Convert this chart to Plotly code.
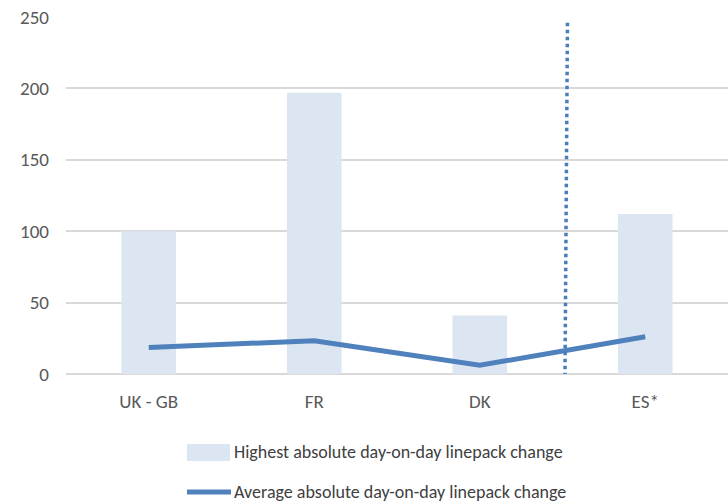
import plotly.graph_objects as go

categories = ["UK - GB", "FR", "DK", "ES*"]
highest_change = [100, 197, 41, 112]
average_change = [18.6, 23.3, 6.1, 26.1]
y_ticks = [0, 50, 100, 150, 200, 250]
legend_labels = ["Highest absolute day-on-day linepack change",
                 "Average absolute day-on-day linepack change"]

# separator between DK and ES* (category-axis position, value range)
divider_x_bottom = 2.515
divider_x_top = 2.53
divider_y_bottom = -1.5
divider_y_top = 246.5

FONT = "Carlito, Lato, Open Sans, sans-serif"
TXT = "#595959"
BAR_C = "#dce6f2"
LINE_C = "#4f81bd"

fig = go.Figure()
fig.add_trace(go.Bar(
    x=categories, y=highest_change, name=legend_labels[0],
    marker=dict(color=BAR_C, line=dict(width=0)), width=0.33, showlegend=False,
))
fig.add_trace(go.Scatter(
    x=categories, y=average_change, name=legend_labels[1],
    mode="lines", line=dict(color=LINE_C, width=5), showlegend=False,
))

fig.add_shape(type="line", xref="x", yref="y",
              x0=divider_x_bottom, x1=divider_x_top, y0=divider_y_bottom, y1=divider_y_top,
              line=dict(color="#4a7ebb", width=3.5, dash="dot"))

# manual legend (paper coordinates)
PW, PH = 662.0, 357.0
def px(xp):
    return (xp - 66) / PW
def py(yp):
    return (374 - yp) / PH

fig.add_shape(type="rect", xref="paper", yref="paper",
              x0=px(187), x1=px(230), y0=py(461), y1=py(444),
              fillcolor=BAR_C, line=dict(width=0))
fig.add_shape(type="line", xref="paper", yref="paper",
              x0=px(187), x1=px(231), y0=py(492), y1=py(492),
              line=dict(color=LINE_C, width=5))
for lbl, yy in zip(legend_labels, [452, 492]):
    fig.add_annotation(text=lbl, xref="paper", yref="paper", x=px(232), y=py(yy),
                       xanchor="left", yanchor="middle", showarrow=False,
                       font=dict(family=FONT, size=18, color="#404040"))

fig.update_layout(
    width=728, height=503,
    margin=dict(l=66, r=0, t=17, b=129),
    paper_bgcolor="white", plot_bgcolor="white",
    font=dict(family=FONT, color=TXT, size=19),
    showlegend=False,
    bargap=0.67,
)
fig.update_xaxes(type="category", range=[-0.5, 3.5], showgrid=False, showline=False,
                 ticks="", tickfont=dict(size=19, color=TXT), ticklabelstandoff=14,
                 automargin=False)
fig.update_yaxes(range=[0, 250], tickvals=y_ticks, showgrid=True, gridcolor="#d9d9d9",
                 gridwidth=1.5, zeroline=True, zerolinecolor="#d9d9d9", zerolinewidth=1.5,
                 showline=False, ticks="", tickfont=dict(size=19, color=TXT),
                 ticklabelstandoff=16, automargin=False)

fig.write_html("out.html", config={"displayModeBar": False},
               post_script="document.body.style.margin='0';document.body.style.overflow='hidden';")
